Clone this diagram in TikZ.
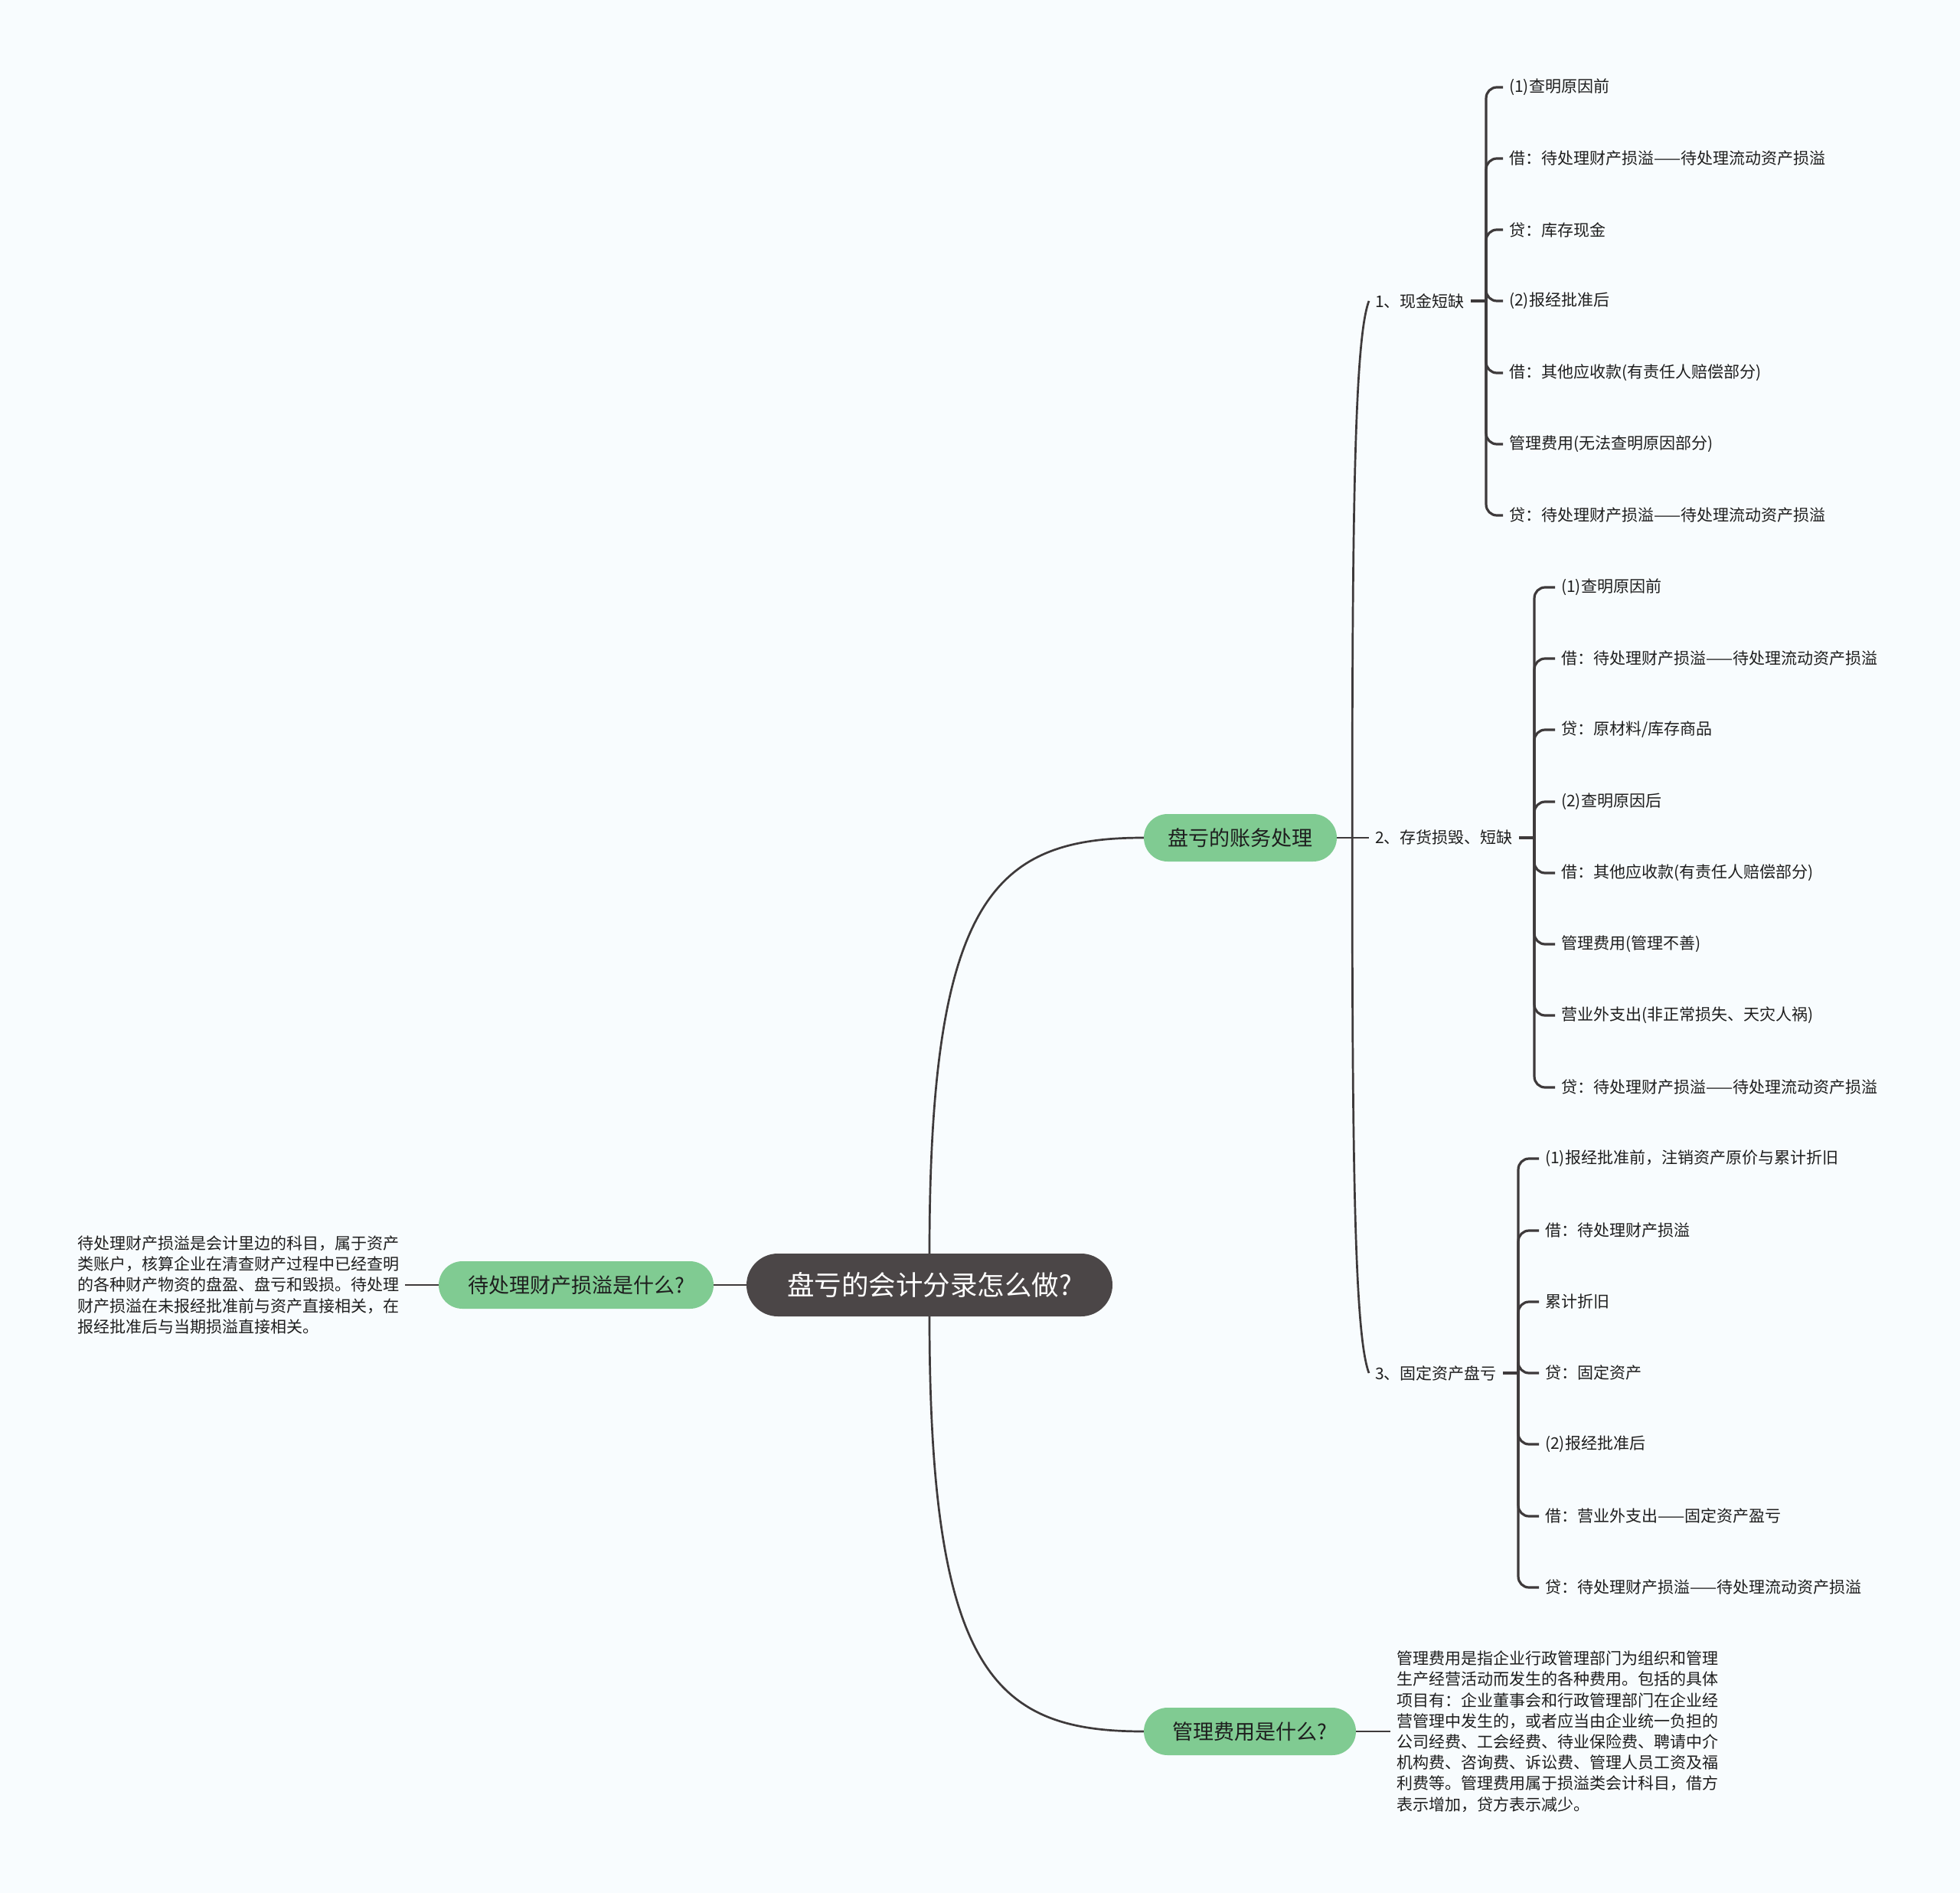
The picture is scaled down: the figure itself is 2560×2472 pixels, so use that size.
\documentclass[tikz,border=0pt]{standalone}
\usepackage{fontspec}
\setmainfont{Noto Sans CJK SC}
\definecolor{bg}{RGB}{248,252,254}
\definecolor{lnc}{RGB}{62,58,59}
\definecolor{rootc}{RGB}{75,70,71}
\definecolor{greenc}{RGB}{128,203,146}
\definecolor{txt}{RGB}{30,30,30}
\begin{document}
\begin{tikzpicture}[x=1pt,y=-1pt,
  rootbox/.style={fill=rootc, text=white, rounded corners=41pt, minimum width=478pt, minimum height=82pt, font=\fontsize{35.5}{40}\selectfont, inner sep=0pt},
  greenbox/.style={fill=greenc, text=txt, rounded corners=31pt, minimum height=62pt, font=\fontsize{27}{32}\selectfont, inner sep=0pt},
  leaf/.style={anchor=west, text=txt, font=\fontsize{21}{26}\selectfont, inner xsep=8pt, inner ysep=2pt},
  para/.style={anchor=west, text=txt, align=left, font=\fontsize{21}{27.2}\selectfont, inner xsep=8pt},
  curve/.style={draw=lnc, line width=2.7pt},
  bracket/.style={draw=lnc, line width=3.2pt, rounded corners=14pt},
]
\fill[bg] (0,0) rectangle (2560,2472);
\useasboundingbox (0,0) rectangle (2560,2472);

% main nodes
\node[rootbox] (root) at (1214,1678) {盘亏的会计分录怎么做?};
\node[greenbox, minimum width=359pt] (q1) at (752.5,1678) {待处理财产损溢是什么?};
\node[greenbox, minimum width=252pt] (a) at (1620,1094) {盘亏的账务处理};
\node[greenbox, minimum width=277pt] (q2) at (1632.5,2261) {管理费用是什么?};

\node[para] (d1) at (93,1678) {待处理财产损溢是会计里边的科目，属于资产\\类账户，核算企业在清查财产过程中已经查明\\的各种财产物资的盘盈、盘亏和毁损。待处理\\财产损溢在未报经批准前与资产直接相关，在\\报经批准后与当期损溢直接相关。};
\node[para] (d2) at (1816,2261) {管理费用是指企业行政管理部门为组织和管理\\生产经营活动而发生的各种费用。包括的具体\\项目有：企业董事会和行政管理部门在企业经\\营管理中发生的，或者应当由企业统一负担的\\公司经费、工会经费、待业保险费、聘请中介\\机构费、咨询费、诉讼费、管理人员工资及福\\利费等。管理费用属于损溢类会计科目，借方\\表示增加，贷方表示减少。};

% level 2
\node[leaf] (b1) at (1788,393) {1、现金短缺};
\node[leaf] (b2) at (1788,1094) {2、存货损毁、短缺};
\node[leaf] (b3) at (1788,1793) {3、固定资产盘亏};

% leaves of b1
\node[leaf] (c11) at (1963,114) {(1)查明原因前};
\node[leaf] (c12) at (1963,207) {借：待处理财产损溢——待处理流动资产损溢};
\node[leaf] (c13) at (1963,300) {贷：库存现金};
\node[leaf] (c14) at (1963,393) {(2)报经批准后};
\node[leaf] (c15) at (1963,487) {借：其他应收款(有责任人赔偿部分)};
\node[leaf] (c16) at (1963,580) {管理费用(无法查明原因部分)};
\node[leaf] (c17) at (1963,673) {贷：待处理财产损溢——待处理流动资产损溢};

% leaves of b2
\node[leaf] (c21) at (2031,767) {(1)查明原因前};
\node[leaf] (c22) at (2031,860) {借：待处理财产损溢——待处理流动资产损溢};
\node[leaf] (c23) at (2031,953) {贷：原材料/库存商品};
\node[leaf] (c24) at (2031,1047) {(2)查明原因后};
\node[leaf] (c25) at (2031,1140) {借：其他应收款(有责任人赔偿部分)};
\node[leaf] (c26) at (2031,1233) {管理费用(管理不善)};
\node[leaf] (c27) at (2031,1326) {营业外支出(非正常损失、天灾人祸)};
\node[leaf] (c28) at (2031,1420) {贷：待处理财产损溢——待处理流动资产损溢};

% leaves of b3
\node[leaf] (c31) at (2010,1513) {(1)报经批准前，注销资产原价与累计折旧};
\node[leaf] (c32) at (2010,1607) {借：待处理财产损溢};
\node[leaf] (c33) at (2010,1700) {累计折旧};
\node[leaf] (c34) at (2010,1793) {贷：固定资产};
\node[leaf] (c35) at (2010,1886) {(2)报经批准后};
\node[leaf] (c36) at (2010,1980) {借：营业外支出——固定资产盈亏};
\node[leaf] (c37) at (2010,2073) {贷：待处理财产损溢——待处理流动资产损溢};

% connectors: root level
\draw[curve] (root.north) .. controls (1214,1170) and (1300,1094) .. (a.west);
\draw[curve] (root.south) .. controls (1214,2186) and (1300,2261) .. (q2.west);
\draw[curve] (q1.east) -- (root.west);
\draw[curve] (d1.east) -- (q1.west);
\draw[curve] (q2.east) -- (d2.west);

% a to level 2
\draw[curve] (a.east) -- ++(20,0) coordinate (sa);
\draw[curve] (sa) -- (b2.west);
\draw[curve] (sa) .. controls (1766,650) and (1770,440) .. (b1.west);
\draw[curve] (sa) .. controls (1766,1538) and (1770,1746) .. (b3.west);

% brackets
\draw[bracket] (b1.east) -- ++(20,0) coordinate (s1);
\foreach \c in {c11,c12,c13,c14,c15,c16,c17} \draw[bracket] (s1) |- (\c.west);
\draw[bracket] (b2.east) -- ++(20,0) coordinate (s2);
\foreach \c in {c21,c22,c23,c24,c25,c26,c27,c28} \draw[bracket] (s2) |- (\c.west);
\draw[bracket] (b3.east) -- ++(20,0) coordinate (s3);
\foreach \c in {c31,c32,c33,c34,c35,c36,c37} \draw[bracket] (s3) |- (\c.west);
\end{tikzpicture}
\end{document}
